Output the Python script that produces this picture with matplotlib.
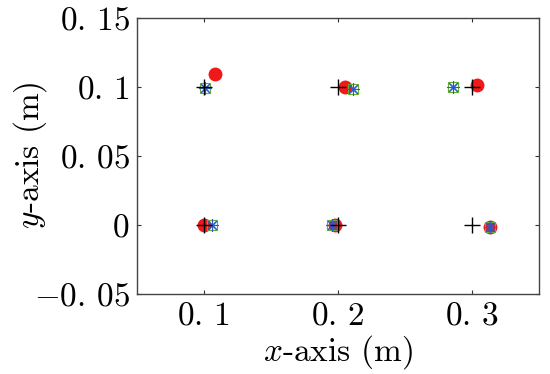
import numpy as np
import matplotlib
matplotlib.use("Agg")
import matplotlib.pyplot as plt

plt.rcParams['mathtext.fontset'] = 'cm'
plt.rcParams['font.family'] = 'cmr10'
plt.rcParams['axes.unicode_minus'] = False

# true source positions (black +)
true_x = [0.1, 0.2, 0.3, 0.1, 0.2, 0.3]
true_y = [0.1, 0.1, 0.1, 0.0, 0.0, 0.0]

# estimate 1 (red circles)
red_x = [0.108, 0.205, 0.3035, 0.1, 0.1975, 0.3134]
red_y = [0.1096, 0.1, 0.1015, 0.0, 0.0, -0.0012]

# estimate 2 (green squares)
green_x = [0.101, 0.211, 0.2854, 0.1058, 0.1958, 0.3134]
green_y = [0.0995, 0.0988, 0.1005, 0.0, 0.0, -0.0012]

# estimate 3 (blue asterisks)
blue_x = [0.101, 0.211, 0.2854, 0.1058, 0.1958, 0.3134]
blue_y = [0.0995, 0.0988, 0.1005, 0.0, 0.0, -0.0012]

xticks = [0.1, 0.2, 0.3]
xtick_labels = [r'$0.\,1$', r'$0.\,2$', r'$0.\,3$']
yticks = [-0.05, 0, 0.05, 0.1, 0.15]
ytick_labels = [r'$-0.\,05$', r'$0$', r'$0.\,05$', r'$0.\,1$', r'$0.\,15$']

fig = plt.figure(figsize=(5.5, 3.74), dpi=100)
ax = fig.add_axes([0.2485, 0.2131, 0.732, 0.738])

ax.plot(red_x, red_y, 'o', color='#f01818', markersize=10, markeredgewidth=0)
ax.plot(green_x, green_y, 's', markerfacecolor='none', markeredgecolor='#66b032',
        markersize=7, markeredgewidth=0.8)
ax.plot(blue_x, blue_y, linestyle='none', marker=(8, 2, 0), color='#2a5cc8',
        markersize=9, markeredgewidth=0.8)
ax.plot(true_x, true_y, '+', color='black', markersize=11, markeredgewidth=1)

ax.set_xlim(0.05, 0.35)
ax.set_ylim(-0.05, 0.15)
ax.set_xticks(xticks)
ax.set_xticklabels(xtick_labels)
ax.set_yticks(yticks)
ax.set_yticklabels(ytick_labels)
ax.tick_params(direction='in', length=3, width=0.8, top=True, right=True,
               labelsize=24, colors='#333333', labelcolor='black', pad=5)
for s in ax.spines.values():
    s.set_color('#444444')
    s.set_linewidth(1)

ax.set_xlabel(r'$x$-axis (m)', fontsize=24)
ax.set_ylabel(r'$y$-axis (m)', fontsize=24)
ax.xaxis.set_label_coords(0.5, -0.209)
ax.yaxis.set_label_coords(-0.265, 0.505)
ax.xaxis.label.set_va('center')
ax.yaxis.label.set_va('center')

fig.savefig('out.png', dpi=100)
